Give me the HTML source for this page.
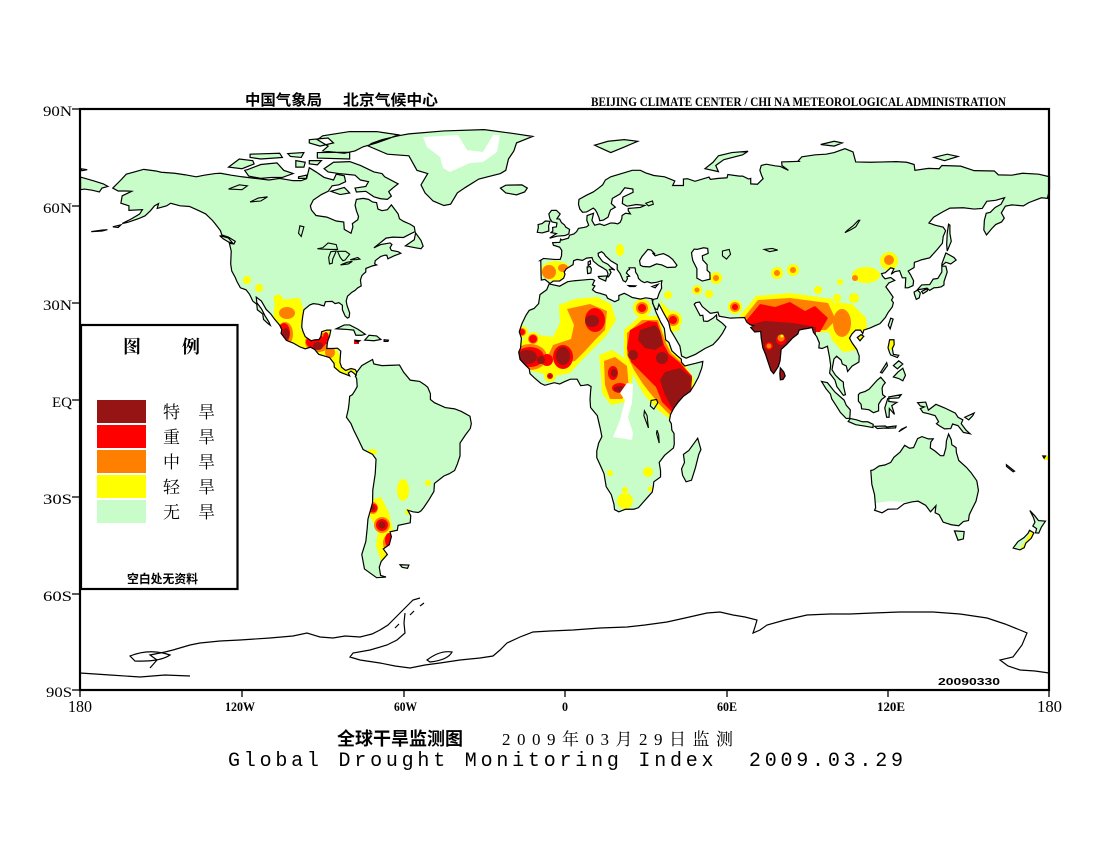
<!DOCTYPE html>
<html>
<head>
<meta charset="utf-8">
<style>
  html,body{margin:0;padding:0;background:#fff;}
  svg{display:block;}
  .geo{vector-effect:non-scaling-stroke;}
  .cn{font-family:"Liberation Sans","Noto Sans CJK SC",sans-serif;}
  .cns{font-family:"Liberation Serif","Noto Serif CJK SC","Noto Sans CJK SC",serif;}
  .sf{font-family:"Liberation Serif",serif;}
</style>
</head>
<body>
<svg width="1100" height="850" viewBox="0 0 1100 850" xmlns="http://www.w3.org/2000/svg">
<defs>
<path id="land" class="geo" d="
M-168,65.5 -165,68 -163,69.8 -156.5,71.3 -152,70.8 -150,70.4 -145,70.1 -141,69.6 -137,69 -134,69.5 -130,70 -128,70.1 -124,69.5 -120,69 -115,68.5 -110,68 -106,68.5 -101,67.8 -98,67.8 -96,68.4 -95,71.8 -92.5,70.5 -89.5,68.8 -86,68 -85,69.8 -82,69.3 -81.5,67.5 -84,66.5 -86.5,66.2 -88,64.5 -90.5,63.5 -93.5,61.8 -94.6,60 -94.2,58.7 -92.5,57 -88.5,56.5 -85,55.3 -82.2,55 -82,52.7 -79.5,51.5 -78.8,53.5 -79,54.5 -77,55.7 -76.7,56.7 -77.5,58.5 -78,60.2 -77.5,62 -75,62.3 -73,62 -71.5,61.2 -70,61 -69.5,59 -68,58.5 -66,58.8 -64.5,60.3 -62,57.5 -61.5,56 -60,55.2 -57.5,54.3 -56,53.5 -55.7,52 -57.2,51.4 -60,50.2 -64,50.3 -66.5,50 -69,48.3 -71,47 -68.5,48 -65,48.5 -64.3,48 -65,47 -64.5,46.2 -62,45.8 -61,45.3 -63.5,44.5 -65.8,43.6 -66.2,44.7 -67,44.7 -68.5,44.3 -70.5,43 -70.7,42 -70,41.7 -71.5,41.4 -74,40.6 -74,39.5 -75,38.8 -75.5,38.3 -76,37 -75.7,35.2 -77,34.6 -78,33.8 -79.2,33.2 -80.8,32 -81.3,30.5 -81,29.2 -80,26.8 -80.2,25.5 -80.8,25.2 -81.7,25.9 -82.7,27.8 -82.7,29.2 -84,30 -85.4,29.7 -86.5,30.4 -89,30.3 -89.5,29 -90.5,29.2 -91.5,29.5 -93.5,29.7 -94.8,29.3 -97,27.8 -97.4,26 -97.7,24 -97.8,22.4 -97.3,21 -96.5,19.5 -95.2,18.7 -94.3,18.2 -92.8,18.5 -91.5,18.5 -90.7,19.5 -90.4,21 -88.5,21.5 -87,21.5 -87.5,19.5 -88,18.5 -88.3,17.5 -88.5,15.8 -86.5,15.8 -84.5,15.9 -83.3,15 -83.5,13 -83.6,11.5 -83,10 -81.5,9 -79.5,9.6 -78,9.3 -77.4,8.6 -77.6,7.5 -78.5,8.2 -79.5,8.8 -80.5,8.2 -80,7.3 -81.5,7.8 -82.7,8.2 -83.6,8.5 -85.7,10 -85.8,11.2 -87.5,13 -89.5,13.5 -91.5,14 -93,15.5 -94.5,16.2 -96.5,15.7 -98.5,16.3 -101,17.5 -103.5,18.3 -105.5,20.5 -105.2,21.6 -106,23 -108,25 -109.3,26.5 -111,27.9 -112.8,30.5 -114.7,31.7 -114.5,30 -112.7,28 -111.5,26 -110,24 -109.5,23 -110.3,23.5 -112,24.8 -112.3,26.5 -114.3,27.8 -114.5,29.5 -116,30.5 -117.2,32.6 -118.5,34 -120.6,34.6 -121.9,36.6 -122.5,37.8 -123.8,39.8 -124.2,42 -124,46 -124.7,48.4 -123,48.2 -122.5,49 -125,50.3 -127.5,51 -128,52.3 -130,54.5 -131,55.5 -133.5,57.5 -136,58.5 -139.5,59.8 -143,60 -146.5,60.8 -148,60 -151.5,59.2 -151,60.7 -152.5,60 -154,58.5 -156,56.9 -158.5,56 -162,55 -164.5,54.5 -161,56 -158,57.5 -157,58.8 -162,58.6 -162,60 -165,60.8 -164.5,63.1 -161,64.5 -163,64.6 -166,64.6 Z
M-77.3,8.5 -75.5,10.5 -73,11.7 -71.5,12.4 -71,11 -68,10.5 -64,10.6 -61.5,10.7 -60,8.5 -57.5,6 -54,5.6 -52,4.5 -51,3.8 -50,1.8 -50,0 -48.5,-1 -44.5,-2.5 -41,-2.9 -38.5,-3.7 -35.3,-5.2 -34.8,-7.5 -35.2,-9 -37,-11 -39,-13.5 -39,-17.5 -40,-20 -41,-22 -43,-23 -45,-23.7 -48.5,-26 -48.7,-28.5 -50.5,-31 -52.5,-33.5 -53.5,-34.5 -54.5,-35 -56.5,-34.8 -58.4,-34.3 -57.3,-36 -57.5,-38.2 -62,-39 -62.3,-40.5 -65,-41 -64.5,-42.5 -65.3,-45 -67.5,-46.3 -66,-48 -68.3,-50.2 -69,-52 -68.5,-54.5 -66.5,-55 -70,-55.2 -72,-54 -74.5,-52.5 -75.5,-48 -74,-44 -73.5,-40 -73.2,-37 -71.5,-32 -71.4,-28 -70.5,-23 -70.2,-18.5 -71.5,-17 -75,-15.5 -77,-12 -78.5,-9.5 -79.5,-7.5 -81.2,-5.5 -80.5,-3 -80.2,-1 -80,1 -79,1.5 -78,2.8 -77.2,4 -77.4,6.5 -77.9,7.2 Z
M-73,78.5 -66,76 -58,75.5 -55,71 -51,70 -53.5,66.5 -52,64 -49,61.5 -45,60.1 -42.5,60.5 -40,64 -37,65.7 -32,68.3 -24,70 -22,71 -21,74.5 -19,77 -18,79.5 -12,81.5 -20,82.5 -30,83.6 -45,83.2 -58,82.3 -62,81.7 -68,80.5 -72,79.3 Z
M-90,77 -82,76.3 -78,77 -75,78.3 -70,79.5 -65,81 -62,82 -70,83 -80,83 -90,81.7 -92,80.5 -88,78.5 Z
M-80,73.7 -76,72.5 -71,70.5 -68,70 -67,69 -62,66.8 -64,65.5 -65.5,64.4 -64.5,63 -66,62 -68.5,62.2 -71,62.8 -74,64.5 -77.5,64.3 -78,65.5 -74,66 -73,67.5 -76,68 -78,69.5 -80.5,69.7 -84,70 -88,70.5 -89.5,71.5 -86,73.5 Z
M-118,71.2 -113,72.8 -107,73.3 -104.5,71 -101,70 -105,68.8 -109,68.8 -113,68.5 -117.5,69.2 -119,71 Z
M-125,72 -121,74.5 -116,74 -115.5,73 -120,71.5 Z
M-92,76.5 -80,76.6 -80,74.5 -92,74.8 Z
M-100,74 -96.5,73.5 -97,72 -100,72 Z
M-95,74 -90.5,74 -92,72.7 -95,73 Z
M-117,76 -106,76.3 -105,75 -113,74.5 -117,75 Z
M-103,76.2 -97,76.5 -98,75 -102,75.3 Z
M-95,80.5 -88,81 -86,79.5 -91,78.5 -95,79.5 Z
M-87,64.5 -82,65.7 -80,64 -83.5,63.5 Z
M-99,69 -96,69.5 -96,68.5 -99,68.5 Z
M-59.3,47.6 -56,49.5 -55.5,51.6 -53.5,49.3 -52.7,47.5 -53.5,46.7 -55.5,47 Z
M-128.3,50.8 -125,50 -123.4,48.4 -125,48.8 -127,49.8 Z
M-85,21.9 -82,23.1 -80,23.1 -77,21.8 -74.2,20.2 -75.5,19.9 -77.7,19.9 -78.5,21.5 -81,21.7 -83,21.8 Z
M-74.4,18.4 -72.8,19.9 -70,19.7 -68.4,18.6 -71,18.2 Z
M-78.3,18.4 -76.2,18.2 -77,17.8 Z
M-67.2,18.5 -65.6,18.4 -65.8,18 -67.2,18 Z
M-61.3,-51.2 -58,-51.3 -58.5,-52.3 -60.5,-52 Z
M-176,52 -172,52.5 -170,52.6 -172,52.2 Z
M-168,53.5 -165,54.1 -166,53.3 Z
M-156,20.3 -155,19.8 -155.8,19 -156,19.7 Z
M-180,68.9 -175,67.7 -171.5,66.8 -169.8,66 -172,65.5 -173,64.3 -175.5,64.8 -178.5,65.2 -180,65 Z
M-179.9,71.5 -177.5,71.2 -179.5,70.9 Z
M-22,64 -24,65.5 -22,66.4 -16,66.5 -14,65.5 -15,64.3 -18,63.4 Z
M-5.7,50 -3,50.6 0,50.8 1.4,51.3 1.7,52.7 0.3,53.4 -0.2,54.1 -1.3,54.8 -2,55.9 -3,56 -1.8,57.5 -3.2,58.6 -5,58.6 -6,57.5 -5.6,56 -4.8,55 -3,54.7 -3.2,53.5 -4.6,53.3 -4.5,52.2 -5.2,51.7 -3.2,51.4 Z
M-6,52.2 -6.1,53.8 -5.6,55.2 -7.3,55.3 -8.5,54.5 -10,54.2 -9.9,53.3 -10.3,51.8 -8.5,51.6 Z
M-9,43 -8.9,38.7 -8.8,37 -7.5,37.2 -6,36.2 -5.4,36 -4.4,36.7 -2,36.7 -0.5,37.6 0,38.8 -0.3,39.5 0.5,40.5 3,41.8 3.2,43 4.5,43.4 6.5,43.1 8,43.8 10,44 10.5,42.9 12.5,41.5 14,40.8 15.5,40 16,38.9 15.6,38 16.1,38 16.6,38.6 17.1,39.4 16.5,40.3 17.3,40.4 18.5,40.1 17,41 15.9,41.9 14,42.7 12.4,44.5 12.3,45.3 13.6,45.8 14.5,45.2 15,44.5 17,43 19.4,41.8 19.4,40.3 20.5,39 21.1,37.8 21.6,36.8 22.5,36.4 23.2,37.4 23,38 24,38.2 22.8,39.2 23.3,40 24,40.3 23.8,40.8 26,40.8 26.2,40.1 26.2,39.5 27,38.5 27.3,37.5 28.3,36.7 29.5,36.2 30.5,36.5 32,36.1 34,36.3 36,36.8 35.8,35.8 35.9,34.5 35,33 34.3,31.3 32.7,31 32.5,29.9 33.5,28.2 34.3,27.8 34.9,29.5 36.5,27 38.5,24 39.2,21.5 41,19 42.7,16.5 43.3,13.5 45,12.8 48.5,14 52,15.8 55,17 57,18.8 58.5,20.5 59.8,22.5 58.5,23.6 56.4,24.9 56.3,26.2 55,25.2 53,24.2 51.5,24.3 51.2,26.1 50.2,26 49.5,27.1 48,29.5 48.6,30 50,30.2 51,28.8 54,26.7 56.8,27.1 57.3,25.8 61.5,25.2 64,25.3 66.7,25.4 67.5,24 68.7,23.2 70,22.8 69,22.3 70.5,20.9 72.7,21.1 72.9,19 73.5,16 74.5,14 75.5,11.5 76.5,9 77.5,8 78.2,8.9 79.3,10.3 79.9,12 80.3,15.5 82.3,17 84.5,19 86.5,20.3 87,21.5 88.5,21.8 90,22 91.8,22.3 92.3,20.8 93.5,19.5 94.5,17.5 94.3,16 95.5,15.8 97.5,16.5 98.3,13 98.7,10.5 98.3,8.2 100.3,6 101,4 103.4,1.3 104.2,1.5 103.5,4 103.4,5.4 102.1,6.2 100.5,7.5 99.2,9.2 99.9,12.5 100.9,13.4 102.6,12.2 103,11 104.5,10.4 105,8.7 106.7,10.4 109.2,11.6 109.3,13.5 108.4,15.5 106.7,17.5 105.7,19 106.6,20.3 108,21.5 109.8,21.5 110.6,20.4 111,21.5 113.5,22.2 115,22.8 117,23.5 119,25.4 120,26.9 121.6,28.7 122,30 121.3,30.8 121.9,31.7 120.6,33.3 119.2,34.9 120.3,36.1 122.5,36.9 121,37.8 118.9,37.4 118,38.2 117.6,39 119,39.3 121,40.8 122.2,40.5 121.2,38.8 122.5,39.6 124.3,39.9 125.3,37.7 126.6,37.7 126.4,34.6 127.5,34.6 129.3,35.3 129.5,36.8 128.4,38.6 127.5,39.8 129.7,40.9 129.8,42.5 131,42.8 132.5,43.3 135.5,43.9 138.2,46.4 140.2,48.4 140.5,50.5 141.4,52.3 140.5,53.4 137.5,54 135.2,54.7 137,56.5 140.5,58.2 143,59.3 148,59.4 152,59 155,59.2 156.7,61.4 160,61.7 163.3,62.5 162,60.5 159.8,59.5 158,58 156.5,57.7 155.8,55.5 155.6,52.5 156.6,51 158.5,52.9 160,54.2 162.2,55 163.2,56.2 162.1,57.8 163.6,59.9 166,60.3 170.3,60 172.3,61 177,62.5 179.2,62.3 180,65 180,69 176,69.8 170,70.1 166,69.5 161,69.6 159.5,70.8 152,70.9 147,72.3 140,72.5 139,71.5 135,71.6 130,71 129.7,72.8 127,73.5 123,73.7 118.5,73.6 113.5,73.5 108,73.6 107,76.7 104,77.7 100,76.5 97,76 93,75.8 88,75.2 86.7,74 87,73.8 80.5,73.6 80.6,72.5 83,71 80,72.2 78,72.4 74.8,72.9 72.9,72.5 72.4,71 73,69.5 73.6,68.4 71.5,66.7 69,66.8 69,68.5 68.2,68.3 66,69.2 64.8,69.2 60.5,69.7 60.2,68.7 57,68.5 54,68.2 53.5,68.9 48.3,67.6 45.5,68.4 44,68.3 44,66.3 40,66.3 40.8,67.7 37,69 33,69.4 30,70.2 28,71 25,71 21,70 17,69 15,68 14,66.5 12.5,65.5 10.5,64.3 8,63.3 5.2,62 5,60.5 5.5,59 6.5,58 8,58.1 10.5,59.3 11.2,58.8 11.8,58 12.6,56.4 12.9,55.4 14.3,55.6 16,56.5 16.5,57.8 16.9,58.7 18.7,59.6 17.2,60.7 17.6,62.3 20.5,63.7 22.2,65.6 25.2,65.2 25.3,64.2 21.5,62.7 21.3,60.7 23,59.9 26.5,60.4 29.6,60.1 28,59.5 23.5,59.2 23.5,58.5 24.3,57.5 22.5,57.7 21.2,57 21.1,56 20.5,54.9 19.6,54.4 18.6,54.6 17,54.7 14.6,53.9 12.9,54.4 11,54 10,55.5 10.6,57.7 8.2,57 8.1,55.5 8.8,54 8,53.5 7,53.3 5,53 4.3,52 3.3,51.3 1.7,50.9 1.3,50 -1.2,49.4 -1.6,49.7 -1.9,48.7 -4.6,48.6 -4.3,47.8 -2,47.2 -1.2,46.2 -1.3,44.5 -1.8,43.4 -4,43.4 -8,43.7 -9.3,43 Z
M11,78.8 16,80 22,80.5 27,80 22,78.2 17,76.5 13,78 Z
M52,71.5 55,73.5 57,75.5 62,76.5 68,76.9 66,75.8 59,74.3 56,72.5 57,70.6 Z
M95,79 100,80 103,79.5 100,78.5 Z
M137,75 142,76 146,75.3 141,74 Z
M142,46 143.5,49 143,51.5 143,54 142.5,54.3 142,51.5 141.8,48 Z
M140,42 141.5,45.4 144.5,44 145.3,43.2 143.3,42 141.5,42.5 140,41.5 Z
M130.9,34 132.5,35.5 135.5,35.6 136.8,37.3 138.5,37.5 140,39.5 140,41.3 141.5,41.3 142,39.5 140.8,36.5 140.8,35.5 139.8,34.9 138.5,34.7 137,34.6 135.5,33.8 134.5,34.5 132.5,34.2 Z
M129.7,33.3 131,33.9 132,33 131.6,31.5 130.5,31 129.8,32.7 Z
M132.5,33.5 134.5,34.3 134.7,33.7 133,32.8 Z
M120.1,23 121,25.2 121.9,24.9 120.8,21.9 Z
M108.6,19.2 110,20.1 111,19.6 109.6,18.2 Z
M79.8,8 80,9.8 81.3,8.5 81.8,7.3 81,6.2 80,6.1 Z
M120,16 120.6,18.5 122.2,18.5 122.3,17 121.6,15.8 122,14 124,13.7 123.5,13 121,13.8 120.6,14.5 Z
M122,10.5 124,12 125.5,11 123.5,9.5 Z
M122,7 123.7,8.5 125.5,9.7 126.5,7.5 125.5,5.8 124,6.5 Z
M117.2,8.4 119.5,11.4 119.8,10.5 117.8,8.2 Z
M95.3,5.6 97.5,5.2 100.3,2.3 103.7,-0.2 104.5,-1.8 106,-3.2 105.8,-5.8 104.5,-5.9 102.3,-4 100.9,-2.1 99.1,0.2 98.6,1.7 97,3.3 Z
M105.2,-6.8 106,-5.9 108.3,-6.3 110.5,-6.9 112.5,-6.9 114.5,-7.7 114.4,-8.7 111,-8.2 108,-7.8 Z
M115,-8.3 119,-8.2 120,-8.8 116,-9 Z
M119.8,-8.5 123,-8.2 122.8,-8.8 120,-8.9 Z
M124,-10 127,-8.4 125,-9.2 Z
M109,1.5 109.6,2 111.5,2.5 113,3.2 114.5,4.6 116,6 117.3,6.9 119,5.2 118.2,4.4 117.8,3.5 118,1.5 119,0.9 117.6,0 116.5,-1.5 116.5,-3.5 114.6,-4.1 113,-3.2 111.5,-3 110.2,-2.9 110,-1.5 109,-0.5 Z
M119.5,-5.5 120.4,-5.5 120.5,-2.8 122.4,-4.6 121.4,-1.9 123.3,-0.9 120.3,-0.6 120.3,0.8 124.9,1.5 124,0.5 119.9,0.3 118.8,-2.6 Z
M131,-1 134,-0.8 135,-3.3 137.8,-1.5 141,-2.6 145,-4.2 146,-5.5 147.8,-6.3 147.2,-7.5 149,-9.5 150.5,-10.6 148,-10.2 146,-8.1 144,-7.6 143.3,-9 141,-9.1 139,-8.1 138,-7.5 138.8,-6.9 137.5,-5 135,-4.4 133,-4 132,-2.8 133.5,-2.3 132,-2 Z
M148.5,-5.5 152,-4.2 151.5,-5 150,-6.3 Z
M164,-20.2 167,-22.2 166.5,-22.4 164,-20.7 Z
M177.5,-17.5 178.5,-17.5 178,-18.2 Z
M113.6,-22 114,-26.3 115,-29.5 115.4,-33.5 115,-34.3 117.8,-35.1 120,-34 123.5,-33.9 126,-32.3 129,-31.7 131.2,-31.5 134,-32.8 135.8,-34.8 137.8,-32.9 137.5,-35.1 139,-35.7 140.5,-38 143.5,-38.8 146.3,-39.1 148,-37.8 149.9,-37.5 150.2,-35.7 151.3,-33.8 152.7,-31.5 153.6,-28.2 153,-25.2 150.8,-22.6 149.1,-21 146.3,-18.9 145.4,-16.4 145.3,-14.9 143.7,-14 143.5,-12.5 142.5,-10.7 141.7,-12.8 141.5,-15 140.7,-17.4 139.5,-17.4 137.5,-16 135.7,-15 135.9,-13.2 136.8,-12.2 135,-12.2 132.6,-11.5 131,-12.1 129.5,-14.9 128,-15.1 126.2,-14.2 124.5,-16.3 122.2,-17.9 121,-19.5 118.8,-20.3 116.7,-20.6 114.6,-21.8 Z
M144.7,-40.7 148.3,-40.9 148,-43.2 146,-43.6 Z
M172.7,-34.4 174.5,-36 175.9,-37.5 178.5,-37.7 177,-39.5 176,-41.4 174.8,-41.3 175.2,-40 173.8,-39.2 174.6,-38 174,-36.5 Z
M172.6,-40.5 174.2,-41.3 173.2,-43 171.2,-44.5 170.6,-45.9 169,-46.6 166.5,-46 168.3,-44 170.5,-42.8 172,-41.5 Z
M-5.9,35.8 -2,35.1 1,36.5 3.5,36.8 6.5,37 9,37.2 10.3,37.2 11,36.9 10.2,35.5 11.1,35.2 10.2,34 11.5,33.2 13,32.9 15.3,32.3 15.8,31.4 18.5,30.3 20,30.9 20,32.2 22,32.9 23.5,32.3 25,31.6 28,31.1 30,31.5 32.3,31.2 32.6,29.9 33.9,26.9 35.6,23.9 36.9,22 37.4,18.5 38.6,17.7 39.7,15.1 41.5,13.7 43.2,12.5 43.3,11.5 44.5,10.4 46,10.7 48.5,11.2 51.2,11.8 51,10.5 50.7,9.5 49.5,6.8 48,4.5 46.5,2.5 44,1 42,-0.9 41,-2 40.2,-3 39.2,-4.7 38.8,-6.5 39.5,-7.5 39.7,-9.5 40.5,-10.5 40.6,-13.8 40.3,-15 37,-17.3 35,-19.5 35.5,-22.1 35.5,-24 33,-25.5 32.8,-27 32.4,-28.7 31,-30 29.3,-31.6 27.3,-33.5 25.6,-34 22.5,-34 20,-34.8 18.4,-34.1 18.2,-32.5 17.2,-29.5 15.3,-27 14.5,-23 13.4,-20.9 11.8,-18 11.8,-16 12.5,-13.5 13.7,-11.5 13.1,-9 12.3,-6.1 12,-5 9.5,-2.5 9.3,0 9.5,2.5 9.7,4 8.5,4.6 7,4.4 5.8,4.3 4.5,6.3 2,6.3 0,5.6 -2,4.8 -4,5.2 -7.5,4.4 -9,5 -11.5,6.8 -13,8 -13.3,9.5 -15,10.9 -16.7,12.4 -17.2,14.7 -16.5,16 -16.2,19 -17,21 -16,23.5 -14.5,26.1 -13.3,27.6 -11.5,28.2 -9.8,29.7 -9.3,32.5 -6.8,34 Z
M49.3,-12 50.5,-15.5 49.7,-17 48.5,-21 47,-25 45,-25.5 43.7,-23.5 43.3,-21.5 44.4,-19.5 44,-17 46,-15.8 48,-13.5 Z
M8.4,39 8.2,41 9.3,41.2 9.8,40.5 9.6,39.2 Z
M8.6,41.5 8.6,42.6 9.4,43 9.5,42 Z
M12.4,38.1 15.6,38.3 15.1,36.7 12.7,37.6 Z
M23.5,35.3 26.3,35.2 26,35 24,35 Z
M32.3,35 34.6,35.7 33.5,34.6 Z
"/>
<path id="seas" class="geo" d="
M28,41.6 27.7,43 28.6,44.3 29.7,45.4 30.8,46.5 32,46.3 33.5,45 32.5,45.4 33.5,44.5 35,44.9 36.6,45.2 38.5,44.4 40,43.4 41.6,41.6 41,41 38,40.9 36,41.7 34,42 31.5,41.1 29,41.2 Z
M49,46.5 51.5,47 53,46.8 53.2,45.3 51,44.5 51.2,43.2 52.8,41.8 52.8,40 53.8,39.3 53.9,37.3 51,36.7 49,37.6 49,40.5 47.5,43 47.2,44.2 47,45.5 48,46.6 Z
"/>
<path id="lakes" class="geo" d="
M-92,46.7 -90,47 -88,48.5 -85,48 -84.5,46.5 -87,46.5 -90.5,46.6 Z
M-87.5,42 -87.8,44 -87,45.8 -85,46 -85.5,45 -86.3,43.5 -86.5,42.2 Z
M-84.5,45.9 -81.5,45.9 -80,45 -81.7,43.2 -82.5,43 -83.5,44 Z
M-83.4,41.7 -81,42.5 -79,42.8 -80.5,42 Z
M-79.8,43.3 -77,44 -76.2,43.5 -78,43.3 Z
M-117,61.2 -114,62.4 -110.5,62.8 -113,61.5 Z
M-125,65.2 -121,66.5 -118,66.2 -120,65 Z
M-98,50.5 -97,53.5 -98.5,53.8 -99,51.5 Z
M104,51.7 106,52.5 108,53.5 109.5,55.5 109,55.5 107,53.8 105,52.5 Z
M58.5,46 61,46.5 61.5,45 60,43.5 58.5,44.5 Z
M74,46.5 77,46.8 79,46.3 76,45.8 Z
M32,-0.3 34,0 34.5,-1 33,-3 31.7,-2 Z
M29.5,-3.5 30.5,-5 30.8,-7.5 31,-8.8 30.2,-7 29.3,-5 Z
M34.2,-9.5 34.8,-11 35,-13.5 34.5,-12 34,-10.5 Z
M30,60.8 32.5,61.5 32.8,60.5 31,60 Z
"/>
<clipPath id="lc"><use href="#land" transform="matrix(2.6917 0 0 -3.2278 565 399.5)"/></clipPath>
</defs>

<!-- land fill -->
<use href="#land" transform="matrix(2.6917 0 0 -3.2278 565 399.5)" fill="#c8fcc8" stroke="none"/>

<!-- drought layers -->
<g clip-path="url(#lc)">
  <g fill="#ffff00">
    <circle cx="247" cy="280" r="4"/><circle cx="259" cy="288" r="4"/><circle cx="278" cy="299" r="4.5"/>
    <circle cx="208" cy="227" r="2"/>
    <path d="M275,300 L300,298 305,315 300,330 318,330 330,330 336,348 342,360 358,370 352,378 330,370 318,360 300,352 283,346 272,330 Z"/>
    <ellipse cx="372" cy="452" rx="5" ry="3"/><ellipse cx="403" cy="490" rx="6" ry="11"/>
    <circle cx="428" cy="483" r="3"/><circle cx="408" cy="512" r="3"/>
    <path d="M371,500 L381,497 389,513 393,530 396,545 391,557 381,561 376,546 378,531 369,515 Z"/>
    <ellipse cx="556" cy="271" rx="15" ry="10"/>
    <path d="M516,346 L530,334 553,337 560,323 559,305 575,299 597,297 611,304 616,320 606,336 596,346 581,361 570,373 555,376 540,373 524,369 516,359 Z"/>
    <circle cx="522" cy="332" r="6"/><circle cx="533" cy="339" r="7"/><circle cx="550" cy="376" r="6"/>
    <path d="M599,355 L612,350 626,359 633,372 631,391 625,402 611,405 602,393 601,375 Z"/>
    <path d="M624,330 L640,316 658,316 662,328 666,340 672,352 682,360 694,379 692,401 681,417 670,419 659,411 645,396 639,386 631,371 624,355 Z"/>
    <circle cx="642" cy="308" r="9"/><circle cx="673" cy="320" r="9"/><circle cx="668" cy="295" r="4"/>
    <path d="M660,300 L667,308 675,315 680,330 672,332 664,318 Z"/>
    <circle cx="697" cy="290" r="5"/><circle cx="709" cy="294" r="4"/><circle cx="716" cy="278" r="6"/><circle cx="735" cy="307" r="7"/>
    <ellipse cx="620" cy="250" rx="4" ry="6"/>
    <path d="M738,318 L756,296 790,293 832,299 842,318 830,332 750,335 Z"/>
    <path d="M826,310 L836,302 852,304 866,318 868,340 858,350 843,352 832,340 826,325 Z"/>
    <circle cx="889" cy="261" r="9"/><ellipse cx="866" cy="275" rx="14" ry="8"/>
    <circle cx="777" cy="273" r="6"/><circle cx="793" cy="270" r="6"/><circle cx="818" cy="290" r="4"/>
    <circle cx="854" cy="298" r="5"/><circle cx="837" cy="298" r="4"/><circle cx="840" cy="282" r="3"/><circle cx="807" cy="307" r="4"/>
    <ellipse cx="625" cy="501" rx="8" ry="8"/><circle cx="648" cy="472" r="5"/><circle cx="610" cy="473" r="3"/>
    <circle cx="650" cy="489" r="2.5"/><circle cx="625" cy="490" r="3"/>
    <rect x="889" y="338" width="6" height="12"/>
    <path d="M1020,549 L1026,540 1031,531 1036,534 1031,545 1024,551 Z"/>
  </g>
  <g fill="#ff8000">
    <ellipse cx="287" cy="313" rx="8" ry="6"/><ellipse cx="285" cy="334" rx="8" ry="12"/>
    <ellipse cx="318" cy="342" rx="13" ry="10"/><ellipse cx="330" cy="352" rx="5" ry="6"/>
    <circle cx="382" cy="525" r="8"/><ellipse cx="388" cy="543" rx="5" ry="8"/><ellipse cx="373" cy="508" rx="5" ry="6"/>
    <ellipse cx="549" cy="272" rx="7" ry="7"/><ellipse cx="563" cy="268" rx="5" ry="4"/>
    <path d="M567,309 L590,304 607,311 605,330 595,340 585,351 575,361 560,363 548,356 553,345 571,339 574,325 Z"/>
    <ellipse cx="530" cy="357" rx="17" ry="13"/><circle cx="522" cy="332" r="4"/><circle cx="533" cy="339" r="5"/>
    <path d="M604,361 L615,357 627,366 629,390 622,399 610,399 605,385 Z"/>
    <path d="M627,333 L642,320 658,320 662,332 666,343 671,353 681,362 692,378 690,399 681,413 670,415 660,405 650,393 643,384 634,370 627,355 Z"/>
    <circle cx="642" cy="308" r="6"/><circle cx="673" cy="320" r="6"/>
    <circle cx="716" cy="278" r="3"/><circle cx="735" cy="307" r="5"/><circle cx="697" cy="290" r="2.5"/>
    <path d="M742,320 L758,300 790,298 828,303 836,320 826,330 745,332 Z"/>
    <ellipse cx="842" cy="323" rx="9" ry="14"/>
    <circle cx="889" cy="260" r="5"/><circle cx="777" cy="273" r="3"/><circle cx="793" cy="270" r="3"/><circle cx="855" cy="278" r="3"/>
  </g>
  <g fill="#ff0000">
    <ellipse cx="284" cy="333" rx="6" ry="10"/><ellipse cx="316" cy="342" rx="10" ry="7"/><ellipse cx="326" cy="338" rx="3" ry="6"/>
    <circle cx="373" cy="508" r="4.5"/><circle cx="382" cy="525" r="6"/><ellipse cx="389" cy="540" rx="4" ry="7"/>
    <ellipse cx="595" cy="320" rx="10" ry="12"/><ellipse cx="530" cy="357" rx="14" ry="10"/><ellipse cx="563" cy="357" rx="10" ry="12"/>
    <circle cx="533" cy="339" r="4"/><circle cx="522" cy="332" r="3"/><circle cx="550" cy="376" r="3"/><ellipse cx="547" cy="360" rx="6" ry="6"/>
    <ellipse cx="613" cy="373" rx="5" ry="7"/><ellipse cx="620" cy="388" rx="8" ry="5"/>
    <path d="M630,330 L648,321 657,322 661,334 664,345 669,354 679,362 692,376 691,396 682,409 672,412 662,402 656,387 648,379 639,370 631,362 627,348 Z"/>
    <circle cx="642" cy="308" r="4"/><circle cx="673" cy="320" r="4"/><circle cx="735" cy="307" r="3"/>
    <path d="M745,322 L760,304 775,307 790,302 805,311 815,306 828,318 820,332 745,332 Z"/>
    <circle cx="819" cy="320" r="4"/>
  </g>
  <g fill="#961414">
    <ellipse cx="286" cy="334" rx="3.5" ry="6"/><ellipse cx="318" cy="346" rx="5" ry="4"/>
    <circle cx="373" cy="508" r="2"/><circle cx="382" cy="525" r="3.5"/>
    <ellipse cx="592" cy="321" rx="7" ry="6"/><ellipse cx="527" cy="357" rx="10" ry="7"/><ellipse cx="563" cy="356" rx="7" ry="9"/>
    <circle cx="541" cy="360" r="4"/><circle cx="550" cy="376" r="1.5"/>
    <ellipse cx="614" cy="373" rx="3" ry="4"/><ellipse cx="620" cy="389" rx="6" ry="3"/>
    <path d="M640,330 L655,325 660,331 663,345 655,350 645,348 638,340 Z"/>
    <circle cx="633" cy="355" r="5"/><circle cx="662" cy="358" r="6"/>
    <path d="M665,372 L680,368 692,378 690,395 680,405 672,408 665,395 660,380 Z"/>
    <path d="M744,326 L765,321 793,323 816,327 816,340 790,380 760,380 740,340 Z"/>
  </g>
  <circle cx="781" cy="340" r="5" fill="#ff0000"/><circle cx="781" cy="338" r="3.5" fill="#ff8000"/><circle cx="782" cy="336" r="1.5" fill="#ffff00"/>
  <circle cx="769" cy="346" r="4" fill="#ff0000"/><circle cx="769" cy="346" r="2.5" fill="#ff8000"/>
  <!-- no data (white) -->
  <g fill="#ffffff">
    <path d="M423,137 L458,135 467,150 483,152 493,135 500,135 497,152 483,162 470,163 450,172 443,168 440,157 427,147 Z"/>
    <path d="M627,383 L633,384 632,403 628,417 633,433 632,440 613,437 620,420 625,400 620,393 Z"/>
    <path d="M876,503 L890,501 905,502 925,505 928,509 920,512 900,513 885,515 877,512 Z"/>
  </g>
</g>
<rect x="354" y="341" width="5" height="3" fill="#ff0000"/>
<rect x="1044" y="456" width="4" height="4" fill="#ffff00"/>

<!-- inland seas -->
<use href="#seas" transform="matrix(2.6917 0 0 -3.2278 565 399.5)" fill="#ffffff" stroke="#000" stroke-width="1.2"/>
<!-- coastlines -->
<use href="#land" transform="matrix(2.6917 0 0 -3.2278 565 399.5)" fill="none" stroke="#000" stroke-width="1.2"/>
<use href="#lakes" transform="matrix(2.6917 0 0 -3.2278 565 399.5)" fill="none" stroke="#000" stroke-width="1.1"/>

<!-- Antarctica outline -->
<g fill="none" stroke="#000" stroke-width="1.2">
  <path d="M80,673 L110,675 140,677 165,675 190,676"/>
  <path d="M130,656 Q150,648 170,655 Q160,662 135,661 Z"/>
  <path d="M150,668 L157,660 150,655 165,652 173,650 190,645 200,643 220,641 240,640 270,638 293,636 307,633 320,637 333,638 345,636 360,637 372,634 380,630 388,625 393,620 398,615 403,610 408,605 413,600 420,598"/>
  <path d="M405,613 L404,623 405,633 397,640 387,645 370,650 353,653 350,657 360,660 380,663 395,666 410,668 425,665 440,663 460,660 480,658 493,656 500,650 507,643 520,637 533,632 550,631 573,630 600,628 627,627 645,625 667,622 685,618 707,613 720,612 733,615 745,617 757,620 755,627 753,633 760,630 767,625 785,620 807,615 830,614 850,614 873,613 900,612 933,612 960,614 987,618 1005,624 1020,630 1027,633 1022,645 1013,657 1000,660 1008,666 1020,670 1035,671 1049,673"/>
  <path d="M427,660 Q440,650 452,652 Q448,660 430,662 Z"/>
  <path d="M420,606 L424,603 M410,615 L414,611 M395,628 L399,624"/>
</g>

<!-- map frame -->
<rect x="80" y="109" width="969" height="581" fill="none" stroke="#000" stroke-width="2.2"/>

<!-- ticks -->
<g stroke="#000" stroke-width="1.3">
  <line x1="72" y1="109" x2="80" y2="109"/><line x1="72" y1="206" x2="80" y2="206"/>
  <line x1="72" y1="303" x2="80" y2="303"/><line x1="72" y1="400" x2="80" y2="400"/>
  <line x1="72" y1="497" x2="80" y2="497"/><line x1="72" y1="594" x2="80" y2="594"/>
  <line x1="72" y1="690" x2="80" y2="690"/>
  <line x1="80" y1="690" x2="80" y2="697"/><line x1="242" y1="690" x2="242" y2="697"/>
  <line x1="404" y1="690" x2="404" y2="697"/><line x1="565" y1="690" x2="565" y2="697"/>
  <line x1="727" y1="690" x2="727" y2="697"/><line x1="888" y1="690" x2="888" y2="697"/>
  <line x1="1049" y1="690" x2="1049" y2="697"/>
</g>

<!-- axis labels -->
<g class="sf" font-size="15" fill="#000">
  <text x="43" y="116" textLength="29" lengthAdjust="spacingAndGlyphs">90N</text>
  <text x="43" y="213" textLength="29" lengthAdjust="spacingAndGlyphs">60N</text>
  <text x="43" y="310" textLength="29" lengthAdjust="spacingAndGlyphs">30N</text>
  <text x="52" y="407" textLength="20" lengthAdjust="spacingAndGlyphs">EQ</text>
  <text x="43" y="504" textLength="29" lengthAdjust="spacingAndGlyphs">30S</text>
  <text x="43" y="601" textLength="29" lengthAdjust="spacingAndGlyphs">60S</text>
  <text x="46" y="697" textLength="26" lengthAdjust="spacingAndGlyphs">90S</text>
</g>
<g class="sf" font-size="17" fill="#000">
  <text x="68" y="712" textLength="24" lengthAdjust="spacingAndGlyphs">180</text>
  <text x="1037" y="712" textLength="25" lengthAdjust="spacingAndGlyphs">180</text>
</g>
<g class="sf" font-size="13" font-weight="bold" fill="#000">
  <text x="225" y="711" textLength="30" lengthAdjust="spacingAndGlyphs">120W</text>
  <text x="394" y="711" textLength="23" lengthAdjust="spacingAndGlyphs">60W</text>
  <text x="562" y="711" textLength="6" lengthAdjust="spacingAndGlyphs">0</text>
  <text x="717" y="711" textLength="20" lengthAdjust="spacingAndGlyphs">60E</text>
  <text x="877" y="711" textLength="28" lengthAdjust="spacingAndGlyphs">120E</text>
</g>
<text x="938" y="685" font-family="Liberation Sans, sans-serif" font-size="10" font-weight="bold" textLength="62" lengthAdjust="spacingAndGlyphs">20090330</text>

<!-- header -->
<text class="cn" x="245" y="105" font-size="15" font-weight="bold" textLength="77" lengthAdjust="spacingAndGlyphs">中国气象局</text>
<text class="cn" x="343" y="105" font-size="15" font-weight="bold" textLength="95" lengthAdjust="spacingAndGlyphs">北京气候中心</text>
<text class="sf" x="591" y="106" font-size="13" font-weight="bold" textLength="415" lengthAdjust="spacingAndGlyphs">BEIJING CLIMATE CENTER / CHI NA METEOROLOGICAL ADMINISTRATION</text>

<!-- legend -->
<rect x="81" y="325" width="156.5" height="264" fill="#fff" stroke="#000" stroke-width="2.2"/>
<text class="cns" x="123" y="353" font-size="18" font-weight="bold">图</text>
<text class="cns" x="182" y="353" font-size="18" font-weight="bold">例</text>
<rect x="97" y="400" width="49" height="23" fill="#961414"/>
<rect x="97" y="425" width="49" height="23" fill="#ff0000"/>
<rect x="97" y="450" width="49" height="23" fill="#ff8000"/>
<rect x="97" y="475" width="49" height="23" fill="#ffff00"/>
<rect x="97" y="500" width="49" height="23" fill="#c8fcc8"/>
<g class="cns" font-size="17" fill="#000">
  <text x="163" y="418">特</text><text x="198" y="418">旱</text>
  <text x="163" y="443">重</text><text x="198" y="443">旱</text>
  <text x="163" y="468">中</text><text x="198" y="468">旱</text>
  <text x="163" y="493">轻</text><text x="198" y="493">旱</text>
  <text x="163" y="518">无</text><text x="198" y="518">旱</text>
</g>
<text class="cn" x="127" y="583" font-size="12" font-weight="bold" textLength="71" lengthAdjust="spacingAndGlyphs">空白处无资料</text>

<!-- titles -->
<text class="cn" x="337" y="745" font-size="18" font-weight="bold" textLength="126" lengthAdjust="spacingAndGlyphs">全球干旱监测图</text>
<text class="cns" x="502" y="745" font-size="17" textLength="231" lengthAdjust="spacing">2009年03月29日监测</text>
<text x="228" y="766" font-family="Liberation Mono, monospace" font-size="20" textLength="675" lengthAdjust="spacing" xml:space="preserve">Global Drought Monitoring Index  2009.03.29</text>
</svg>
</body>
</html>
